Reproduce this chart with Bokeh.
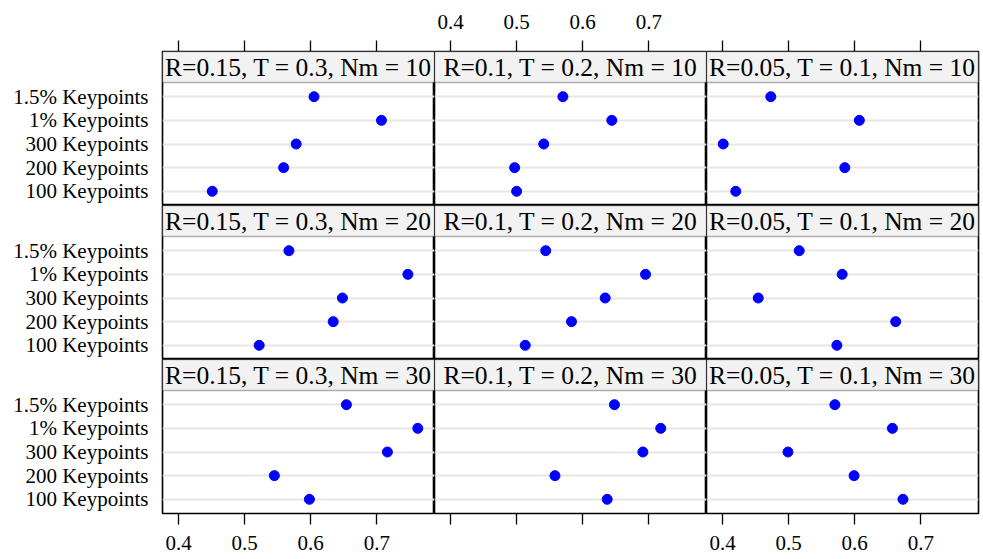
from bokeh.plotting import figure
from bokeh.layouts import gridplot
from bokeh.models import Range1d, LinearAxis, FixedTicker, BoxAnnotation, Label
from bokeh.embed import file_html
from bokeh.resources import INLINE

# ---- data ----
keypoints = ["100 Keypoints", "200 Keypoints", "300 Keypoints", "1% Keypoints", "1.5% Keypoints"]
col_labels = ["R=0.15, T = 0.3", "R=0.1, T = 0.2", "R=0.05, T = 0.1"]
row_labels = ["Nm = 10", "Nm = 20", "Nm = 30"]
x_ticks = [0.4, 0.5, 0.6, 0.7]

r015_nm10 = [0.451, 0.559, 0.578, 0.707, 0.605]
r010_nm10 = [0.500, 0.497, 0.541, 0.644, 0.570]
r005_nm10 = [0.420, 0.585, 0.401, 0.607, 0.473]
r015_nm20 = [0.522, 0.634, 0.648, 0.747, 0.567]
r010_nm20 = [0.513, 0.583, 0.634, 0.695, 0.544]
r005_nm20 = [0.573, 0.662, 0.454, 0.581, 0.516]
r015_nm30 = [0.598, 0.545, 0.716, 0.762, 0.654]
r010_nm30 = [0.637, 0.558, 0.691, 0.718, 0.648]
r005_nm30 = [0.673, 0.599, 0.499, 0.657, 0.570]

values = [
    [r015_nm10, r010_nm10, r005_nm10],
    [r015_nm20, r010_nm20, r005_nm20],
    [r015_nm30, r010_nm30, r005_nm30],
]

# ---- style / layout ----
FONT = "Liberation Serif"
LEFT, TOP, BOTTOM = 162, 51, 45
FW, STRIP_H, PANEL_H = 272, 31, 123
FH = STRIP_H + PANEL_H

all_vals = [v for row in values for s in row for v in s]
lo, hi = min(all_vals), max(all_vals)
pad = 0.07 * (hi - lo)
x0, x1 = lo - pad, hi + pad
n = len(keypoints)
levels = list(range(1, n + 1))
y0 = 0.4
panel_top = n + 0.6
y1 = panel_top + (panel_top - y0) * STRIP_H / PANEL_H


def style_x_axis(ax, show_labels, standoff):
    ax.axis_line_color = None
    ax.major_tick_in = 0
    ax.major_tick_out = 11
    ax.major_tick_line_color = "black"
    ax.major_tick_line_width = 1.3
    ax.minor_tick_line_color = None
    ax.major_label_text_font = FONT
    ax.major_label_text_font_size = "21px"
    ax.major_label_text_color = "black"
    ax.major_label_standoff = standoff
    if not show_labels:
        ax.major_label_text_alpha = 0


def make(r, c):
    ml = LEFT if c == 0 else 0
    mr = 2 if c == 2 else 0
    mt = TOP if r == 0 else 0
    mb = BOTTOM if r == 2 else 0
    p = figure(width=FW + ml + mr, height=FH + mt + mb,
               x_range=Range1d(x0, x1), y_range=Range1d(y0, y1),
               x_axis_location=None, y_axis_location=None,
               toolbar_location=None, tools="", output_backend="svg",
               min_border_left=ml, min_border_right=mr,
               min_border_top=mt, min_border_bottom=mb)
    p.outline_line_color = "black"
    p.outline_line_width = 1.6
    p.xgrid.visible = False
    p.ygrid.ticker = FixedTicker(ticks=levels)
    p.ygrid.grid_line_color = "#e6e6e6"
    p.ygrid.grid_line_width = 1.8

    # strip
    p.add_layout(BoxAnnotation(bottom=panel_top, fill_color="#f2f2f2", fill_alpha=1,
                               line_color="black", line_width=1.6))
    p.add_layout(Label(x=(x0 + x1) / 2, y=(panel_top + y1) / 2,
                       text=f"{col_labels[c]}, {row_labels[r]}",
                       text_align="center", text_baseline="middle",
                       text_font=FONT, text_font_size="25.5px", text_color="black"))

    p.scatter(x=values[r][c], y=levels, size=10, color="#0000ff", line_color="#0000ff")

    if r == 0:
        ax = LinearAxis(ticker=FixedTicker(ticks=x_ticks))
        style_x_axis(ax, c == 1, 12)
        p.add_layout(ax, "above")
    if r == 2:
        ax = LinearAxis(ticker=FixedTicker(ticks=x_ticks))
        style_x_axis(ax, c != 1, 11)
        p.add_layout(ax, "below")
    if c == 0:
        yax = LinearAxis(ticker=FixedTicker(ticks=levels),
                         major_label_overrides={lv: k for lv, k in zip(levels, keypoints)})
        yax.axis_line_color = None
        yax.major_tick_in = 0
        yax.major_tick_out = 0
        yax.minor_tick_line_color = None
        yax.major_label_text_font = FONT
        yax.major_label_text_font_size = "21px"
        yax.major_label_text_color = "black"
        yax.major_label_standoff = 14
        p.add_layout(yax, "left")
    return p


rows = [[make(r, c) for c in range(3)] for r in range(3)]
grid = gridplot(rows, toolbar_location=None)

open("out.html", "w").write(file_html(grid, INLINE))
